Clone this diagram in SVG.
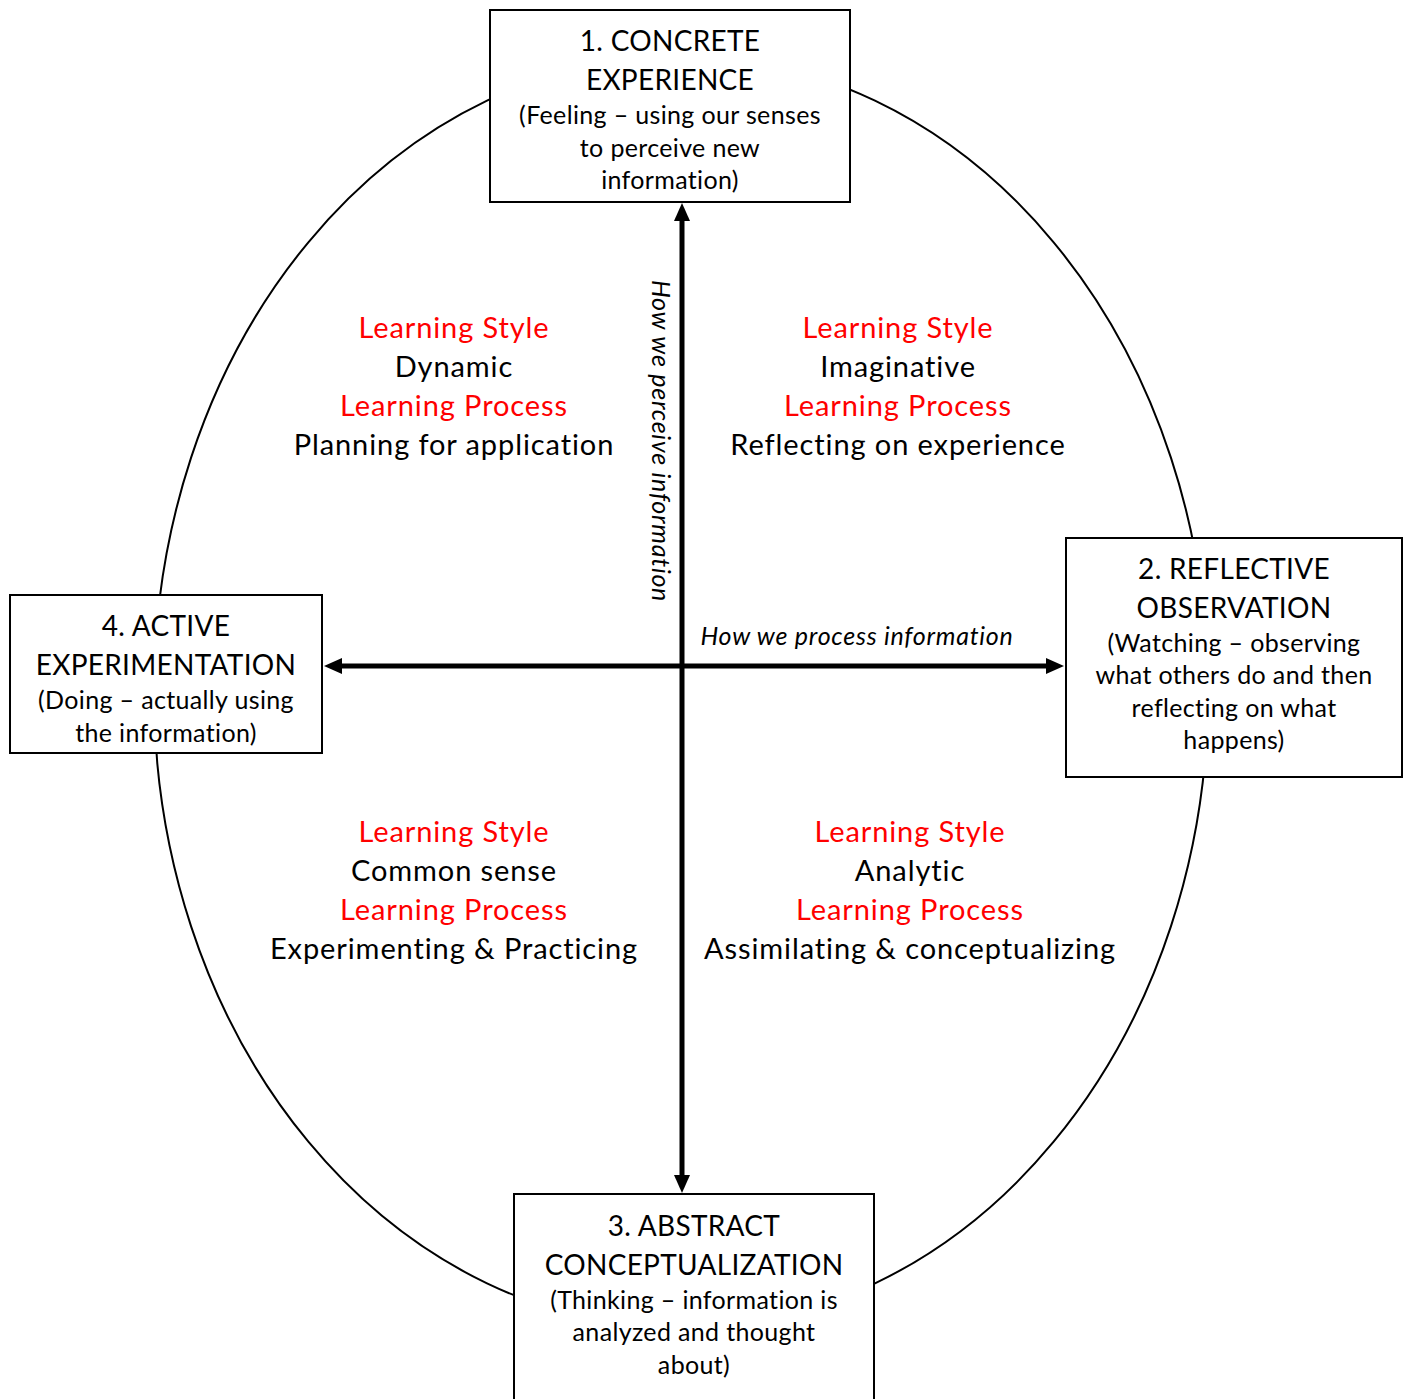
<svg xmlns="http://www.w3.org/2000/svg" width="1408" height="1399" viewBox="0 0 1408 1399">
<defs>
<style>
.box{fill:#fff;stroke:#000;stroke-width:2}
.t{font-family:Lato,"Open Sans","Liberation Sans",sans-serif;fill:#000;text-anchor:middle}
.h{font-size:28px;letter-spacing:0.3px}
.s{font-size:25px;letter-spacing:0.35px}
.q{font-size:29px;letter-spacing:0.9px}
.r{fill:#ff0000}
.i{font-style:italic;font-size:25px;letter-spacing:0.75px}
.ax{stroke:#000;stroke-width:5;fill:none}
</style>
<marker id="ah" viewBox="0 0 18 16" refX="8" refY="8" markerWidth="18" markerHeight="16" orient="auto" markerUnits="userSpaceOnUse">
<path d="M0,0 L18,8 L0,16 z" fill="#000"/>
</marker>
</defs>
<rect width="1408" height="1399" fill="#fff"/>
<ellipse cx="681" cy="692" rx="527" ry="636" fill="none" stroke="#000" stroke-width="2"/>
<g id="connectors">
<line class="ax" x1="682" y1="666" x2="682" y2="213" marker-end="url(#ah)"/>
<line class="ax" x1="682" y1="666" x2="682" y2="1183" marker-end="url(#ah)"/>
<line class="ax" x1="682" y1="666" x2="334" y2="666" marker-end="url(#ah)"/>
<line class="ax" x1="682" y1="666" x2="1054" y2="666" marker-end="url(#ah)"/>
</g>
<g id="node1">
<rect class="box" x="490" y="10" width="360" height="192"/>
<text class="t h" x="670" y="51">1. CONCRETE</text>
<text class="t h" x="670" y="90">EXPERIENCE</text>
<text class="t s" x="670" y="124">(Feeling – using our senses</text>
<text class="t s" x="670" y="157">to perceive new</text>
<text class="t s" x="670" y="189">information)</text>
</g>
<g id="node2">
<rect class="box" x="1066" y="538" width="336" height="239"/>
<text class="t h" x="1234" y="579">2. REFLECTIVE</text>
<text class="t h" x="1234" y="618">OBSERVATION</text>
<text class="t s" x="1234" y="652">(Watching – observing</text>
<text class="t s" x="1234" y="684">what others do and then</text>
<text class="t s" x="1234" y="717">reflecting on what</text>
<text class="t s" x="1234" y="749">happens)</text>
</g>
<g id="node3">
<rect class="box" x="514" y="1194" width="360" height="220"/>
<text class="t h" x="694" y="1236">3. ABSTRACT</text>
<text class="t h" x="694" y="1275">CONCEPTUALIZATION</text>
<text class="t s" x="694" y="1309">(Thinking – information is</text>
<text class="t s" x="694" y="1341">analyzed and thought</text>
<text class="t s" x="694" y="1374">about)</text>
</g>
<g id="node4">
<rect class="box" x="10" y="595" width="312" height="158"/>
<text class="t h" x="166" y="636">4. ACTIVE</text>
<text class="t h" x="166" y="675">EXPERIMENTATION</text>
<text class="t s" x="166" y="709">(Doing – actually using</text>
<text class="t s" x="166" y="742">the information)</text>
</g>
<g id="labels">
<text class="t i" transform="translate(652,441) rotate(90)">How we perceive information</text>
<text class="t i" x="857" y="645">How we process information</text>
</g>
<g id="quadrant-dynamic">
<text class="t q r" x="454" y="338">Learning Style</text>
<text class="t q" x="454" y="377">Dynamic</text>
<text class="t q r" x="454" y="416">Learning Process</text>
<text class="t q" x="454" y="455">Planning for application</text>
</g>
<g id="quadrant-imaginative">
<text class="t q r" x="898" y="338">Learning Style</text>
<text class="t q" x="898" y="377">Imaginative</text>
<text class="t q r" x="898" y="416">Learning Process</text>
<text class="t q" x="898" y="455">Reflecting on experience</text>
</g>
<g id="quadrant-common">
<text class="t q r" x="454" y="842">Learning Style</text>
<text class="t q" x="454" y="881">Common sense</text>
<text class="t q r" x="454" y="920">Learning Process</text>
<text class="t q" x="454" y="959">Experimenting &amp; Practicing</text>
</g>
<g id="quadrant-analytic">
<text class="t q r" x="910" y="842">Learning Style</text>
<text class="t q" x="910" y="881">Analytic</text>
<text class="t q r" x="910" y="920">Learning Process</text>
<text class="t q" x="910" y="959">Assimilating &amp; conceptualizing</text>
</g>
</svg>
